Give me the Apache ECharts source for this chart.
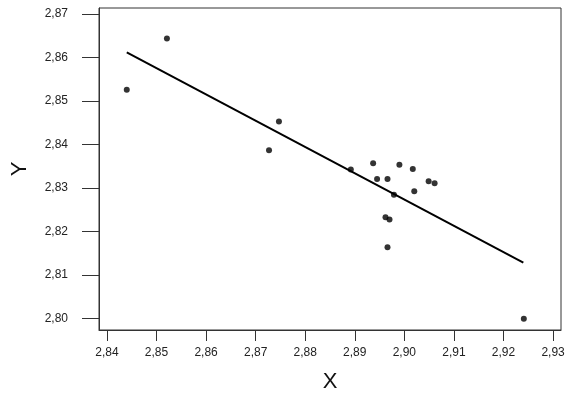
<!DOCTYPE html>
<html>
<head>
<meta charset="utf-8">
<script src="https://cdn.jsdelivr.net/npm/echarts@6/dist/echarts.min.js"></script>
<style>
  html, body { margin: 0; padding: 0; background: #fff; }
  #chart { width: 570px; height: 398px; }
</style>
</head>
<body>
<div id="chart"></div>
<script>
const xValues = [2.8440, 2.8521, 2.8727, 2.8747, 2.8892, 2.8937, 2.8945, 2.8966, 2.8990,
    2.9017, 2.8962, 2.8970, 2.8966, 2.8979, 2.9020, 2.9049, 2.9061, 2.9241];
const yValues = [2.8526, 2.8644, 2.8387, 2.8453, 2.8343, 2.8357, 2.8321, 2.8321, 2.8354,
    2.8344, 2.8233, 2.8228, 2.8164, 2.8285, 2.8293, 2.8316, 2.8311, 2.8000];

// fitted line end points
const fitX = [2.8440, 2.9240];
const fitY = [2.8612, 2.8129];

const xTicks = [2.84, 2.85, 2.86, 2.87, 2.88, 2.89, 2.90, 2.91, 2.92, 2.93];
const yTicks = [2.80, 2.81, 2.82, 2.83, 2.84, 2.85, 2.86, 2.87];

const fmt = v => v.toFixed(2).replace('.', ',');
const font = 'Liberation Sans, Arial, sans-serif';
const ink = '#333';

const chart = echarts.init(document.getElementById('chart'));
chart.setOption({
    animation: false,
    grid: {
        left: 99,
        right: 9,
        top: 8,
        bottom: 68,
        outerBoundsMode: 'none',
        containLabel: false,
        show: true,
        borderColor: ink,
        borderWidth: 1,
    },
    xAxis: {
        type: 'value',
        min: 2.8384,
        max: 2.9316,
        name: 'X',
        nameLocation: 'middle',
        nameGap: 41,
        nameTextStyle: { fontFamily: font, fontSize: 22, color: '#111' },
        splitLine: { show: false },
        axisLine: { show: true, onZero: false, lineStyle: { color: ink, width: 1 } },
        axisTick: { show: true, length: 11, customValues: xTicks, lineStyle: { color: ink } },
        axisLabel: {
            customValues: xTicks,
            formatter: fmt,
            margin: 17,
            fontFamily: font,
            fontSize: 12,
            color: '#222',
        },
    },
    yAxis: {
        type: 'value',
        min: 2.7974,
        max: 2.8714,
        name: 'Y',
        nameLocation: 'middle',
        nameRotate: 90,
        nameGap: 68,
        nameTextStyle: { fontFamily: font, fontSize: 22, color: '#111' },
        splitLine: { show: false },
        axisLine: { show: true, onZero: false, lineStyle: { color: ink, width: 1 } },
        axisTick: { show: true, length: 17, customValues: yTicks, lineStyle: { color: ink } },
        axisLabel: {
            customValues: yTicks,
            formatter: fmt,
            margin: 31,
            fontFamily: font,
            fontSize: 12,
            color: '#222',
        },
    },
    series: [
        {
            type: 'line',
            data: fitX.map((x, i) => [x, fitY[i]]),
            showSymbol: false,
            lineStyle: { color: '#000', width: 2 },
            z: 2,
        },
        {
            type: 'scatter',
            data: xValues.map((x, i) => [x, yValues[i]]),
            symbol: 'circle',
            symbolSize: 6,
            itemStyle: { color: '#000' },
            z: 3,
        },
    ],
});
</script>
</body>
</html>
